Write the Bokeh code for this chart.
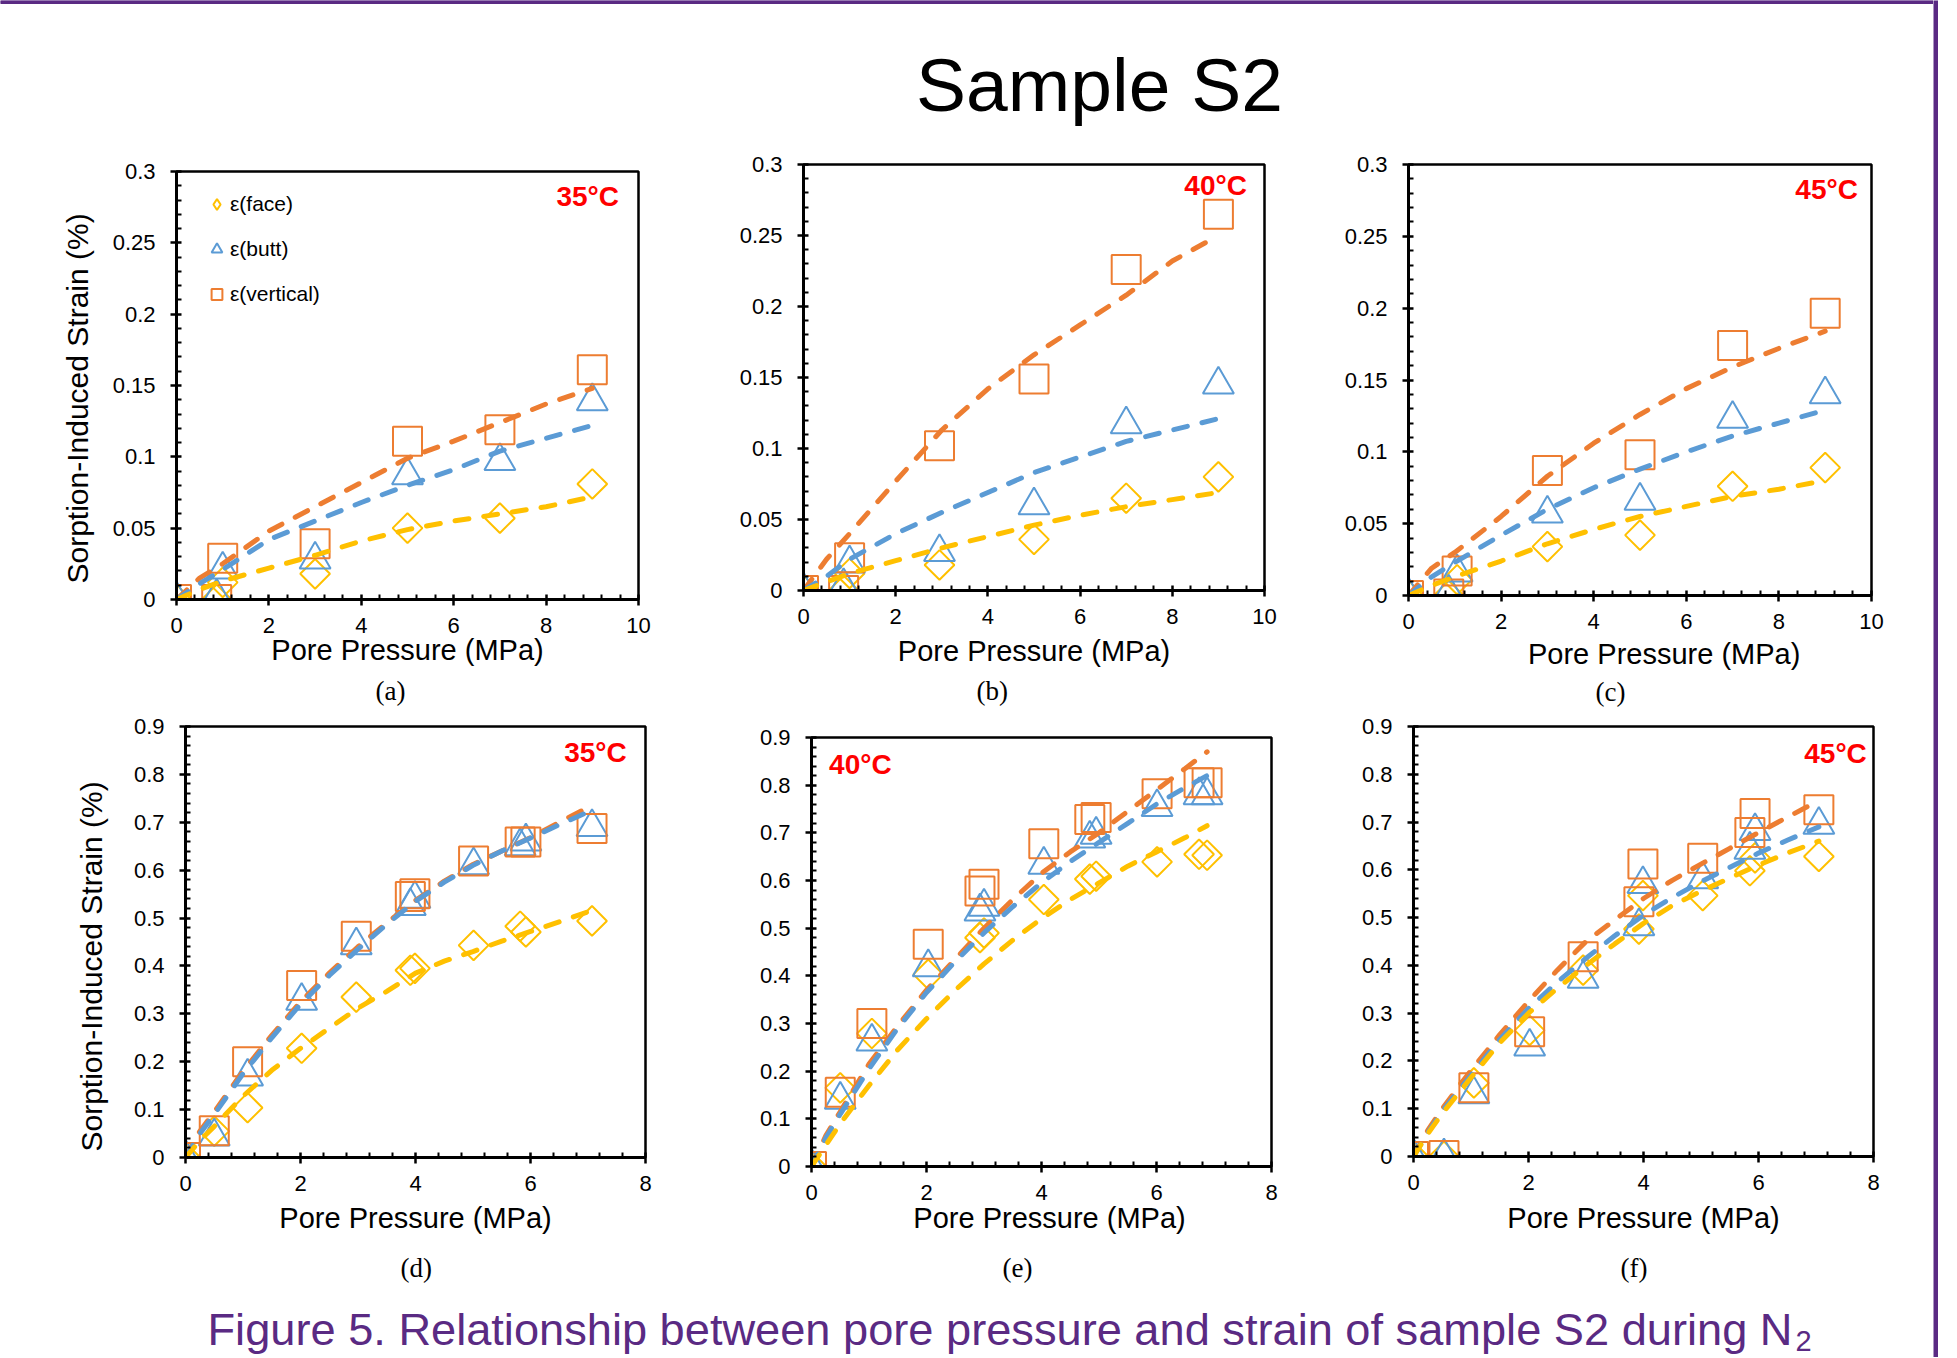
import numpy as np
from bokeh.plotting import figure
from bokeh.layouts import row, column
from bokeh.models import (Range1d, FixedTicker, NumeralTickFormatter,
                          Label, Legend, LegendItem, Title)
from bokeh.embed import file_html
from bokeh.resources import INLINE
from bokeh.core.properties import value

FONT = "Liberation Sans"
SERIF = "Liberation Serif"
ORANGE = "#ED7D31"
BLUE = "#5B9BD5"
GOLD = "#FFC000"
PURPLE = "#5A2A83"
NBSP = "\u00a0"

# ---------------- data ----------------
TOP_X_TICKS = [0, 2, 4, 6, 8, 10]
TOP_Y_TICKS = [0, 0.05, 0.1, 0.15, 0.2, 0.25, 0.3]
BOT_X_TICKS = [0, 2, 4, 6, 8]
BOT_Y_TICKS = [0, 0.1, 0.2, 0.3, 0.4, 0.5, 0.6, 0.7, 0.8, 0.9]

TOP_FIT_P = [0, 0.5, 1, 2, 3, 4, 5, 6, 7, 8, 9]

A_P = [0, 0.87, 1.0, 3, 5, 7, 9]
A_FACE = [0, 0.0, 0.012, 0.018, 0.050, 0.057, 0.081]
A_BUTT = [0, 0.002, 0.021, 0.028, 0.087, 0.097, 0.139]
A_VERT = [0, 0.0, 0.029, 0.039, 0.111, 0.119, 0.161]
A_FIT_FACE = [0, 0.007, 0.013, 0.022, 0.031, 0.041, 0.049, 0.055, 0.060, 0.065, 0.072]
A_FIT_BUTT = [0, 0.011, 0.021, 0.042, 0.055, 0.068, 0.080, 0.091, 0.104, 0.113, 0.122]
A_FIT_VERT = [0, 0.015, 0.025, 0.048, 0.065, 0.082, 0.099, 0.111, 0.124, 0.137, 0.148]

B_P = [0, 0.87, 1.0, 2.95, 5, 7, 9]
B_FACE = [0, 0.0, 0.012, 0.018, 0.036, 0.065, 0.080]
B_BUTT = [0, 0.003, 0.019, 0.027, 0.060, 0.117, 0.145]
B_VERT = [0, 0.0, 0.023, 0.102, 0.149, 0.226, 0.265]
B_FIT_FACE = [0, 0.006, 0.012, 0.021, 0.030, 0.038, 0.046, 0.053, 0.059, 0.064, 0.069]
B_FIT_BUTT = [0, 0.010, 0.022, 0.040, 0.055, 0.069, 0.083, 0.094, 0.105, 0.113, 0.121]
B_FIT_VERT = [0, 0.022, 0.040, 0.077, 0.113, 0.142, 0.166, 0.187, 0.208, 0.232, 0.250]

C_P = [0, 0.87, 1.05, 3, 5, 7, 9]
C_FACE = [0, 0.0, 0.011, 0.034, 0.042, 0.076, 0.089]
C_BUTT = [0, 0.002, 0.016, 0.057, 0.066, 0.123, 0.140]
C_VERT = [0, 0.001, 0.017, 0.087, 0.098, 0.174, 0.1965]
C_FIT_FACE = [0, 0.007, 0.013, 0.024, 0.036, 0.046, 0.055, 0.062, 0.069, 0.074, 0.080]
C_FIT_BUTT = [0, 0.013, 0.023, 0.042, 0.060, 0.075, 0.088, 0.100, 0.111, 0.120, 0.129]
C_FIT_VERT = [0, 0.019, 0.030, 0.055, 0.083, 0.106, 0.126, 0.144, 0.159, 0.172, 0.184]

D_P = [0, 0.5, 1.08, 2.02, 2.97, 3.91, 3.99, 5.01, 5.82, 5.92, 7.07]
D_FACE = [0, 0.055, 0.104, 0.228, 0.335, 0.391, 0.395, 0.443, 0.483, 0.471, 0.494]
D_BUTT = [0, 0.044, 0.169, 0.327, 0.443, 0.525, 0.540, 0.610, 0.650, 0.660, 0.690]
D_VERT = [0, 0.056, 0.200, 0.359, 0.462, 0.545, 0.551, 0.619, 0.659, 0.659, 0.687]
D_FIT_P = [0, 0.25, 0.5, 1, 1.5, 2, 2.5, 3, 3.5, 4, 4.5, 5, 5.5, 6, 6.5, 7.07]
D_FIT_FACE = [0, 0.035, 0.065, 0.128, 0.182, 0.228, 0.270, 0.312, 0.347, 0.385, 0.410, 0.430, 0.452, 0.472, 0.492, 0.516]
D_FIT_BUTT = [0, 0.050, 0.090, 0.175, 0.250, 0.320, 0.380, 0.435, 0.487, 0.535, 0.575, 0.610, 0.640, 0.667, 0.695, 0.725]
D_FIT_VERT = [0, 0.055, 0.095, 0.180, 0.255, 0.325, 0.385, 0.440, 0.490, 0.537, 0.577, 0.612, 0.640, 0.668, 0.700, 0.735]

E_P = [0, 0.5, 1.05, 2.03, 2.93, 3.0, 4.04, 4.84, 4.95, 6.01, 6.74, 6.88]
E_FACE = [0, 0.165, 0.279, 0.403, 0.480, 0.490, 0.560, 0.603, 0.609, 0.639, 0.655, 0.653]
E_BUTT = [0, 0.140, 0.262, 0.418, 0.535, 0.545, 0.633, 0.688, 0.696, 0.754, 0.779, 0.779]
E_VERT = [0, 0.156, 0.300, 0.466, 0.578, 0.592, 0.677, 0.728, 0.732, 0.782, 0.805, 0.805]
E_FIT_P = [0, 0.25, 0.5, 1, 1.5, 2, 2.5, 3, 3.5, 4, 4.5, 5, 5.5, 6, 6.5, 6.88]
E_FIT_FACE = [0, 0.045, 0.090, 0.170, 0.245, 0.310, 0.370, 0.425, 0.475, 0.520, 0.560, 0.595, 0.630, 0.660, 0.690, 0.715]
E_FIT_BUTT = [0, 0.060, 0.110, 0.205, 0.290, 0.365, 0.430, 0.490, 0.545, 0.595, 0.640, 0.680, 0.720, 0.760, 0.795, 0.820]
E_FIT_VERT = [0, 0.065, 0.115, 0.215, 0.295, 0.370, 0.435, 0.500, 0.560, 0.615, 0.660, 0.700, 0.745, 0.790, 0.835, 0.870]

F_P = [0, 0.53, 1.05, 2.02, 2.95, 3.92, 3.99, 5.03, 5.85, 5.94, 7.05]
F_FACE = [0, 0.0, 0.154, 0.264, 0.390, 0.476, 0.546, 0.546, 0.598, 0.625, 0.628]
F_BUTT = [0, 0.0, 0.130, 0.230, 0.372, 0.482, 0.570, 0.580, 0.642, 0.681, 0.694]
F_VERT = [0, 0.002, 0.144, 0.261, 0.418, 0.533, 0.612, 0.624, 0.678, 0.718, 0.726]
F_FIT_P = [0, 0.25, 0.5, 1, 1.5, 2, 2.5, 3, 3.5, 4, 4.5, 5, 5.5, 6, 6.5, 7.05]
F_FIT_FACE = [0, 0.048, 0.090, 0.165, 0.238, 0.300, 0.352, 0.400, 0.445, 0.488, 0.525, 0.555, 0.583, 0.610, 0.635, 0.660]
F_FIT_BUTT = [0, 0.050, 0.095, 0.170, 0.245, 0.310, 0.365, 0.415, 0.462, 0.505, 0.542, 0.575, 0.605, 0.635, 0.662, 0.690]
F_FIT_VERT = [0, 0.055, 0.100, 0.180, 0.255, 0.325, 0.390, 0.450, 0.495, 0.540, 0.578, 0.612, 0.645, 0.678, 0.710, 0.745]

SERIES_LABELS = ["\u03b5(face)", "\u03b5(butt)", "\u03b5(vertical)"]
TEMPS = ["35\u00b0C", "40\u00b0C", "45\u00b0C", "35\u00b0C", "40\u00b0C", "45\u00b0C"]
TAGS = ["(a)", "(b)", "(c)", "(d)", "(e)", "(f)"]
X_LABEL = "Pore Pressure (MPa)"
Y_LABEL = "Sorption-Induced Strain (%)"
TITLE = "Sample S2"
CAPTION = "Figure 5. Relationship between pore pressure and strain of sample S2 during N"
CAPTION_SUB = "2"

DATA = [
    (A_P, A_FACE, A_BUTT, A_VERT, TOP_FIT_P, A_FIT_FACE, A_FIT_BUTT, A_FIT_VERT),
    (B_P, B_FACE, B_BUTT, B_VERT, TOP_FIT_P, B_FIT_FACE, B_FIT_BUTT, B_FIT_VERT),
    (C_P, C_FACE, C_BUTT, C_VERT, TOP_FIT_P, C_FIT_FACE, C_FIT_BUTT, C_FIT_VERT),
    (D_P, D_FACE, D_BUTT, D_VERT, D_FIT_P, D_FIT_FACE, D_FIT_BUTT, D_FIT_VERT),
    (E_P, E_FACE, E_BUTT, E_VERT, E_FIT_P, E_FIT_FACE, E_FIT_BUTT, E_FIT_VERT),
    (F_P, F_FACE, F_BUTT, F_VERT, F_FIT_P, F_FIT_FACE, F_FIT_BUTT, F_FIT_VERT),
]
TICKS = [(TOP_X_TICKS, TOP_Y_TICKS)] * 3 + [(BOT_X_TICKS, BOT_Y_TICKS)] * 3

# ---------------- layout (pixels) ----------------
ROW1_H = 570
ROW2_H = 590
LAYOUT = [
    dict(w=700, h=ROW1_H, l=176, r=62, t=31, b=109, ylab=True, ylab_off=16, ylab_so=31,
         tx=8.90, ty=0.2826, tag_off=199, tag_so=10, xls=-2, xpad=0, legend=True),
    dict(w=600, h=ROW1_H, l=103, r=36, t=24, b=120, ylab=False, ylab_off=0, ylab_so=0,
         tx=8.94, ty=0.285, tag_off=173, tag_so=8, xls=8, xpad=0, legend=False),
    dict(w=633, h=ROW1_H, l=108, r=62, t=24, b=115, ylab=False, ylab_off=0, ylab_so=0,
         tx=9.03, ty=0.2826, tag_off=187, tag_so=5, xls=6, xpad=6, legend=False),
    dict(w=720, h=ROW2_H, l=185, r=75, t=16, b=143, ylab=True, ylab_off=6, ylab_so=45,
         tx=7.13, ty=0.8457, tag_off=215, tag_so=28, xls=8, xpad=0, legend=False),
    dict(w=600, h=ROW2_H, l=91, r=49, t=27, b=134, ylab=False, ylab_off=0, ylab_so=0,
         tx=0.85, ty=0.843, tag_off=191, tag_so=28, xls=-1, xpad=2, legend=False),
    dict(w=613, h=ROW2_H, l=93, r=60, t=16, b=144, ylab=False, ylab_off=0, ylab_so=0,
         tx=7.34, ty=0.8435, tag_off=207, tag_so=28, xls=9, xpad=0, legend=False),
]


def minor_between(ticks, n=5):
    out = []
    for a, b in zip(ticks[:-1], ticks[1:]):
        out.extend(list(np.linspace(a, b, n + 1)[1:-1]))
    return out


def make_panel(i):
    L = LAYOUT[i]
    P, FACE, BUTT, VERT, FP, FFACE, FBUTT, FVERT = DATA[i]
    xt, yt = TICKS[i]
    p = figure(width=L["w"], height=L["h"], x_range=Range1d(xt[0], xt[-1]),
               y_range=Range1d(yt[0], yt[-1]), output_backend="svg",
               toolbar_location=None, title=None,
               min_border_left=L["l"], min_border_right=L["r"],
               min_border_top=L["t"], min_border_bottom=L["b"])
    p.xgrid.visible = False
    p.ygrid.visible = False
    p.background_fill_color = "white"
    p.border_fill_color = "white"
    p.outline_line_color = "black"
    p.outline_line_width = 2.5

    p.xaxis.ticker = FixedTicker(ticks=xt, minor_ticks=minor_between(xt))
    p.yaxis.ticker = FixedTicker(ticks=yt, minor_ticks=minor_between(yt))
    p.yaxis.formatter = NumeralTickFormatter(format="0.[00]")
    for ax in (p.xaxis[0], p.yaxis[0]):
        ax.axis_line_width = 3
        ax.axis_line_color = "black"
        ax.major_tick_line_width = 2.5
        ax.major_tick_line_color = "black"
        ax.major_tick_in = 5
        ax.major_tick_out = 6
        ax.minor_tick_line_width = 2
        ax.minor_tick_line_color = "black"
        ax.minor_tick_in = 5
        ax.minor_tick_out = 0
        ax.major_label_text_font = FONT
        ax.major_label_text_font_size = "22px"
        ax.major_label_text_color = "black"
        ax.axis_label_text_font = FONT
        ax.axis_label_text_font_size = "29px"
        ax.axis_label_text_font_style = "normal"
        ax.axis_label_text_color = "black"
    p.xaxis.major_label_standoff = 12
    p.yaxis.major_label_standoff = 15
    p.xaxis.axis_label = NBSP * L["xpad"] + X_LABEL
    p.xaxis.axis_label_standoff = L["xls"]
    if L["ylab"]:
        p.add_layout(Title(text=Y_LABEL, align="left", offset=L["ylab_off"],
                           standoff=L["ylab_so"], text_font=FONT, text_font_size="30px",
                           text_font_style="normal", text_color="black"), "left")

    r_face = p.scatter(P, FACE, marker="square", angle=np.pi / 4, size=21,
                       fill_color=None, line_color=GOLD, line_width=2)
    r_butt = p.scatter(P, BUTT, marker="triangle", size=31,
                       fill_color=None, line_color=BLUE, line_width=2)
    r_vert = p.scatter(P, VERT, marker="square", size=29,
                       fill_color=None, line_color=ORANGE, line_width=2)

    for fy, col in ((FVERT, ORANGE), (FBUTT, BLUE), (FFACE, GOLD)):
        p.line(FP, fy, line_color=col, line_width=5, line_dash="14 15",
               line_cap="round")

    p.add_layout(Label(x=L["tx"], y=L["ty"], text=TEMPS[i], text_color="#FF0000",
                       text_font=FONT, text_font_style="bold", text_font_size="28px",
                       text_align="center", text_baseline="middle"))
    p.add_layout(Title(text=TAGS[i], align="left", offset=L["tag_off"],
                       standoff=L["tag_so"], text_font=SERIF, text_font_size="27px",
                       text_font_style="normal", text_color="black"), "below")

    if L["legend"]:
        # legend swatch: same face data drawn as a diamond marker, kept hidden in the plot
        r_face_leg = p.scatter(P, FACE, marker="diamond", size=20,
                               fill_color=None, line_color=GOLD, line_width=2,
                               visible=False)
        items = [LegendItem(label=SERIES_LABELS[0], renderers=[r_face_leg]),
                 LegendItem(label=SERIES_LABELS[1], renderers=[r_butt]),
                 LegendItem(label=SERIES_LABELS[2], renderers=[r_vert])]
        leg = Legend(items=items, location=(27, 290), orientation="vertical",
                     glyph_width=27, glyph_height=30, label_height=30,
                     label_standoff=0, spacing=15, padding=0, margin=0,
                     label_text_font=FONT, label_text_font_size="21px",
                     label_text_color="black", background_fill_alpha=0,
                     border_line_color=None, inactive_fill_alpha=0)
        p.add_layout(leg)
    return p


panels = [make_panel(i) for i in range(6)]

MAIN_W = 1933
TITLE_H = 140
CAP_H = 57

# title band
tfig = figure(width=MAIN_W, height=TITLE_H, x_range=Range1d(0, MAIN_W),
              y_range=Range1d(TITLE_H, 0), output_backend="svg", toolbar_location=None,
              title=None, x_axis_location=None, y_axis_location=None,
              min_border_left=0, min_border_right=0, min_border_top=0, min_border_bottom=0)
tfig.outline_line_color = None
tfig.xgrid.visible = False
tfig.ygrid.visible = False
tfig.hbar(y=[1.5], height=3, left=0, right=MAIN_W + 5, color=PURPLE)
tfig.text(x=[1099], y=[84], text=[TITLE], text_font=value(FONT), text_font_size="75px",
          text_align="center", text_baseline="middle", text_color="black")

# caption band
cfig = figure(width=MAIN_W, height=CAP_H, x_range=Range1d(0, MAIN_W), y_range=Range1d(CAP_H, 0),
              output_backend="svg", toolbar_location=None, title=None,
              x_axis_location=None, y_axis_location=None,
              min_border_left=0, min_border_right=0, min_border_top=0, min_border_bottom=0)
cfig.outline_line_color = None
cfig.xgrid.visible = False
cfig.ygrid.visible = False
cfig.text(x=[207], y=[29], text=[CAPTION], text_font=value(FONT), text_font_size="45.2px",
          text_align="left", text_baseline="middle", text_color=PURPLE)
cfig.text(x=[1795], y=[40], text=[CAPTION_SUB], text_font=value(FONT), text_font_size="29px",
          text_align="left", text_baseline="middle", text_color=PURPLE)

# right purple border strip
strip = figure(width=5, height=TITLE_H + ROW1_H + ROW2_H + CAP_H, output_backend="svg",
               toolbar_location=None, title=None,
               x_axis_location=None, y_axis_location=None,
               min_border_left=0, min_border_right=0, min_border_top=0, min_border_bottom=0,
               background_fill_color=PURPLE, border_fill_color=PURPLE)
strip.outline_line_color = None
strip.xgrid.visible = False
strip.ygrid.visible = False

row1 = row(column(panels[0]), column(panels[1]), column(panels[2]), spacing=0)
row2 = row(column(panels[3]), column(panels[4]), column(panels[5]), spacing=0)
main = column(tfig, row1, row2, cfig, spacing=0)
root = row(main, strip, spacing=0)

open("out.html", "w").write(file_html(root, INLINE))
